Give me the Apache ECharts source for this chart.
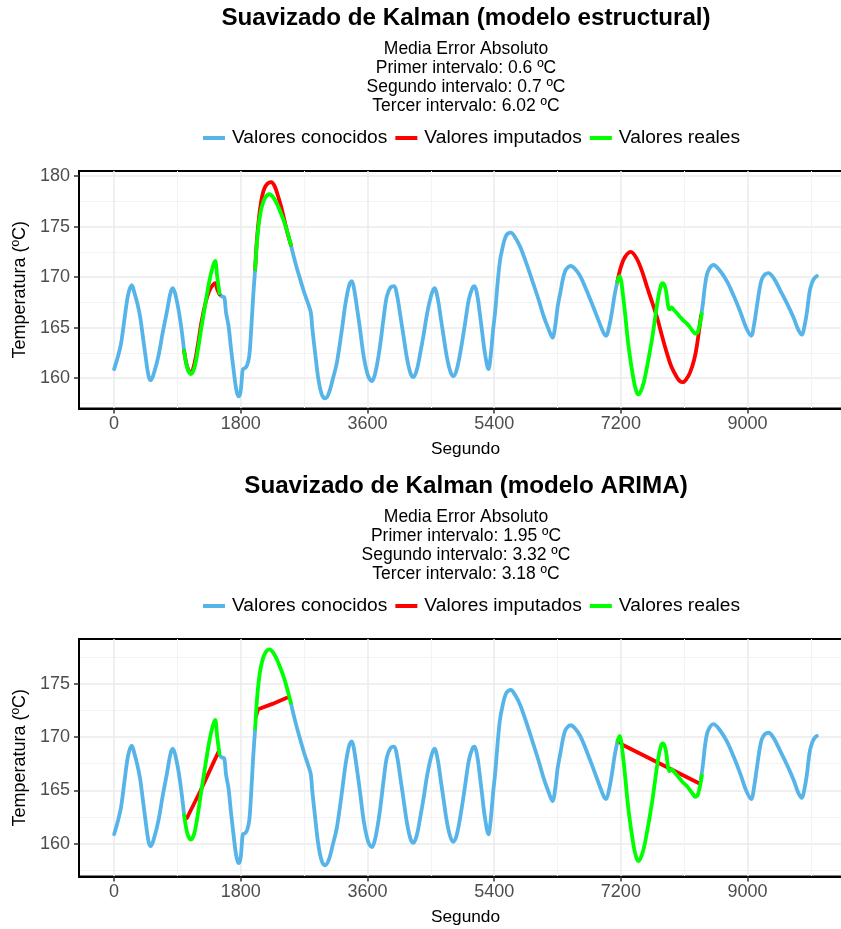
<!DOCTYPE html>
<html>
<head>
<meta charset="utf-8">
<script src="https://cdn.jsdelivr.net/npm/echarts@6/dist/echarts.min.js"></script>
<style>
  html, body { margin: 0; padding: 0; background: #ffffff; }
  #chart { width: 841px; height: 929px; }
</style>
</head>
<body>
<div id="chart"></div>
<script>
// ---------------- DATA ----------------
const titleTop = 'Suavizado de Kalman (modelo estructural)';
const titleBottom = 'Suavizado de Kalman (modelo ARIMA)';
const subtitleTop = ['Media Error Absoluto', 'Primer intervalo: 0.6 ºC', 'Segundo intervalo: 0.7 ºC', 'Tercer intervalo: 6.02 ºC'];
const subtitleBottom = ['Media Error Absoluto', 'Primer intervalo: 1.95 ºC', 'Segundo intervalo: 3.32 ºC', 'Tercer intervalo: 3.18 ºC'];
const legendNames = ['Valores conocidos', 'Valores imputados', 'Valores reales'];
const xName = 'Segundo';
const yName = 'Temperatura (ºC)';

const xTicks = [0, 1800, 3600, 5400, 7200, 9000];
const xMinorTicks = [900, 2700, 4500, 6300, 8100, 9900];
const yTicksTop = [160, 165, 170, 175, 180];
const yMinorTicksTop = [157.5, 162.5, 167.5, 172.5, 177.5];
const yTicksBottom = [160, 165, 170, 175];
const yMinorTicksBottom = [157.5, 162.5, 167.5, 172.5, 177.5];

// Known values (segments between the gaps)
const known1 = [[0,160.9],[60,162.3],[100,163.5],[150,166.0],[200,168.3],[251,169.2],[290,168.4],[330,167.4],[369,166.1],[405,164.3],[440,162.5],[490,160.2],[521,159.8],[570,160.6],[630,162.2],[690,164.5],[748,166.5],[800,168.4],[834,168.9],[880,168.0],[938,165.8],[995,162.7]];
const known2 = [[1497,168.3],[1530,168.1],[1565,168.0],[1590,166.5],[1625,165.2],[1660,163.0],[1696,160.9],[1735,158.9],[1767,158.2],[1795,158.6],[1815,160.0],[1830,160.9],[1860,161.0],[1890,161.3],[1920,162.2],[1945,164.5],[1975,168.0],[2004,170.8]];
const known3 = [[2511,173.2],[2580,171.3],[2643,169.8],[2700,168.5],[2760,167.3],[2795,166.5],[2815,165.0],[2856,162.5],[2900,160.0],[2950,158.4],[2998,158.0],[3050,158.5],[3110,160.0],[3164,161.5],[3230,164.5],[3290,167.5],[3340,169.2],[3377,169.6],[3410,168.8],[3450,167.0],[3495,164.8],[3550,162.0],[3610,160.2],[3662,159.7],[3710,160.5],[3770,162.8],[3830,166.0],[3875,168.1],[3930,169.0],[3979,169.1],[4020,168.2],[4060,166.5],[4111,164.2],[4160,162.0],[4210,160.5],[4253,160.1],[4300,160.8],[4350,162.5],[4395,164.2],[4450,166.5],[4510,168.3],[4552,168.9],[4600,167.8],[4640,166.0],[4680,164.2],[4730,162.0],[4780,160.6],[4822,160.2],[4870,160.9],[4930,163.0],[4988,165.5],[5040,167.8],[5090,168.9],[5121,169.1],[5160,168.2],[5190,166.7],[5225,164.8],[5270,162.4],[5319,160.9],[5350,162.2],[5385,164.8],[5414,166.6],[5450,169.5],[5480,171.5],[5509,172.6],[5570,174.1],[5637,174.4],[5700,173.9],[5769,173.0],[5860,171.3],[5958,169.3],[6030,167.8],[6100,166.2],[6170,164.9],[6228,164.0],[6270,165.3],[6300,167.0],[6338,168.4],[6409,170.6],[6489,171.1],[6550,170.8],[6622,170.1],[6700,168.9],[6811,167.0],[6900,165.4],[6960,164.4],[6991,164.2],[7030,165.0],[7072,166.5],[7110,168.2],[7152,169.6]];
const known4 = [[8337,166.1],[8364,167.3],[8400,169.4],[8440,170.6],[8516,171.2],[8600,170.7],[8706,169.6],[8800,168.2],[8895,166.6],[8980,165.0],[9052,164.2],[9090,165.2],[9132,167.1],[9170,168.8],[9203,169.8],[9250,170.3],[9298,170.4],[9380,169.8],[9464,168.7],[9560,167.4],[9653,166.0],[9720,164.8],[9772,164.3],[9810,165.2],[9843,166.5],[9880,168.5],[9914,169.4],[9950,169.9],[9985,170.1]];

// Real values inside the gaps
const real1 = [[995,162.7],[1040,161.0],[1090,160.4],[1140,161.0],[1190,162.8],[1240,165.0],[1300,167.5],[1350,169.5],[1400,171.0],[1435,171.6],[1465,170.0],[1497,168.4]];
const real2 = [[2004,170.8],[2030,173.5],[2060,175.5],[2100,177.0],[2150,177.9],[2210,178.2],[2260,177.9],[2310,177.3],[2360,176.5],[2410,175.6],[2460,174.5],[2511,173.2]];
const real3 = [[7152,169.6],[7181,170.1],[7237,167.8],[7308,163.2],[7379,159.9],[7420,158.7],[7451,158.4],[7500,159.0],[7546,160.2],[7641,163.8],[7726,167.8],[7770,169.2],[7796,169.4],[7820,169.2],[7843,168.6],[7870,167.2],[7891,166.8],[7920,167.0],[7948,166.8],[8000,166.4],[8050,166.0],[8090,165.7],[8140,165.4],[8185,165.0],[8230,164.6],[8256,164.4],[8285,164.5],[8303,164.8],[8330,165.6],[8351,166.4]];

// Imputed values, structural model
const struct1 = [[995,162.7],[1040,161.1],[1090,160.5],[1140,161.4],[1190,163.3],[1240,165.5],[1300,167.5],[1350,168.6],[1400,169.2],[1435,169.4],[1465,168.8],[1497,168.3]];
const struct2 = [[2004,170.8],[2030,173.8],[2060,176.0],[2100,177.9],[2150,179.0],[2231,179.4],[2280,179.0],[2330,178.0],[2380,176.8],[2430,175.3],[2470,174.2],[2511,173.2]];
const struct3 = [[7152,169.6],[7200,171.0],[7260,172.0],[7341,172.5],[7420,171.9],[7500,170.6],[7569,169.1],[7640,167.6],[7711,166.1],[7780,164.3],[7853,162.5],[7920,161.1],[7995,160.1],[8040,159.7],[8081,159.6],[8130,159.9],[8185,160.6],[8240,161.8],[8280,163.2],[8337,166.1]];

// Imputed values, ARIMA model
const arima1 = [[1033,162.4],[1222,164.9],[1411,167.6],[1482,168.6]];
const arima2 = [[2015,171.9],[2045,172.6],[2250,173.1],[2463,173.7]];
const arima3 = [[7181,169.6],[7215,169.3],[8303,165.7]];

// ---------------- STYLE ----------------
const FONT = "'Liberation Sans', Arial, Helvetica, sans-serif";
const C_KNOWN = '#56B4E9', C_IMP = '#FF0000', C_REAL = '#00FF00';
const X_MIN = -499, X_MAX = 10484;
const PANEL_OFF = 468;

const chart = echarts.init(document.getElementById('chart'), null, { renderer: 'canvas' });

const panels = [
  { top: 171, yMin: 157.0, yMax: 180.5, yTicks: yTicksTop, yMinor: yMinorTicksTop,
    title: titleTop, sub: subtitleTop, imputed: [struct1, struct2, struct3], smoothImp: 0.35 },
  { top: 171 + PANEL_OFF, yMin: 156.95, yMax: 179.17, yTicks: yTicksBottom, yMinor: yMinorTicksBottom,
    title: titleBottom, sub: subtitleBottom, imputed: [arima1, arima2, arima3], smoothImp: 0 }
];

const grids = [], xAxes = [], yAxes = [], series = [], titles = [], legends = [];

panels.forEach((p, g) => {
  grids.push({ left: 79, top: p.top, width: 773, height: 237.5, show: true,
    borderColor: '#000', borderWidth: 2, backgroundColor: 'transparent', containLabel: false, outerBoundsMode: 'none' });
  // major x axis
  xAxes.push({ type: 'value', gridIndex: g, min: X_MIN, max: X_MAX,
    axisLine: { show: true, onZero: false, lineStyle: { color: '#000', width: 2 } },
    axisTick: { show: true, length: 5, customValues: xTicks, lineStyle: { color: '#333', width: 1.5 } },
    axisLabel: { show: true, customValues: xTicks, margin: 7, color: '#4D4D4D', fontSize: 18, fontFamily: FONT,
      formatter: v => String(v) },
    splitLine: { show: true, lineStyle: { color: '#EBEBEB', width: 1.5 } },
    name: xName, nameLocation: 'middle', nameGap: 32,
    nameTextStyle: { color: '#000', fontSize: 17.3, fontFamily: FONT } });
  // minor x axis (grid lines only)
  xAxes.push({ type: 'value', gridIndex: g, min: X_MIN, max: X_MAX, position: 'bottom',
    axisLine: { show: false }, axisTick: { show: false, customValues: xMinorTicks },
    axisLabel: { show: false, customValues: xMinorTicks },
    splitLine: { show: true, lineStyle: { color: '#F3F3F3', width: 1 } } });
  // major y axis
  yAxes.push({ type: 'value', gridIndex: g, min: p.yMin, max: p.yMax,
    axisLine: { show: true, onZero: false, lineStyle: { color: '#000', width: 2 } },
    axisTick: { show: true, length: 5, customValues: p.yTicks, lineStyle: { color: '#333', width: 1.5 } },
    axisLabel: { show: true, customValues: p.yTicks, margin: 9, color: '#4D4D4D', fontSize: 18, fontFamily: FONT,
      formatter: v => String(v) },
    splitLine: { show: true, lineStyle: { color: '#EBEBEB', width: 1.5 } },
    name: yName, nameLocation: 'middle', nameGap: 48,
    nameTextStyle: { color: '#000', fontSize: 18, fontFamily: FONT } });
  // minor y axis
  yAxes.push({ type: 'value', gridIndex: g, min: p.yMin, max: p.yMax, position: 'left',
    axisLine: { show: false }, axisTick: { show: false, customValues: p.yMinor },
    axisLabel: { show: false, customValues: p.yMinor },
    splitLine: { show: true, lineStyle: { color: '#F3F3F3', width: 1 } } });

  const xi = 2 * g, yi = 2 * g;
  const mk = (name, data, color, smooth, z) => ({
    type: 'line', name, data, xAxisIndex: xi, yAxisIndex: yi, showSymbol: false, symbol: 'none',
    smooth, color, z, lineStyle: { color, width: 3.8, cap: 'round', join: 'round' }, itemStyle: { color },
    emphasis: { disabled: true }, silent: true
  });
  [known1, known2, known3, known4].forEach(d => series.push(mk(legendNames[0], d, C_KNOWN, 0.35, 2)));
  p.imputed.forEach(d => series.push(mk(legendNames[1], d, C_IMP, p.smoothImp, 3)));
  [real1, real2, real3].forEach(d => series.push(mk(legendNames[2], d, C_REAL, 0.35, 4)));

  const off = g * PANEL_OFF;
  titles.push({ text: p.title, left: 466, top: 6.7 + off, textAlign: 'center', padding: 0,
    textStyle: { fontSize: 24.2, fontWeight: 'bold', color: '#000', fontFamily: FONT, lineHeight: 24 } });
  titles.push({ text: p.sub.join('\n'), left: 466, top: 39.2 + off, textAlign: 'center', padding: 0,
    textStyle: { fontSize: 17.5, fontWeight: 'normal', color: '#000', fontFamily: FONT, lineHeight: 19.1 } });
  legends.push({ data: legendNames, left: 203, top: 128 + off, padding: 0, itemGap: 8,
    itemWidth: 22, itemHeight: 4, icon: 'rect', selectedMode: false,
    textStyle: { fontSize: 19.2, color: '#000', fontFamily: FONT, lineHeight: 20, padding: [0, 0, 0, 2] } });
});

chart.setOption({
  animation: false,
  backgroundColor: '#ffffff',
  title: titles,
  legend: legends,
  grid: grids,
  xAxis: xAxes,
  yAxis: yAxes,
  series: series
});
</script>
</body>
</html>
